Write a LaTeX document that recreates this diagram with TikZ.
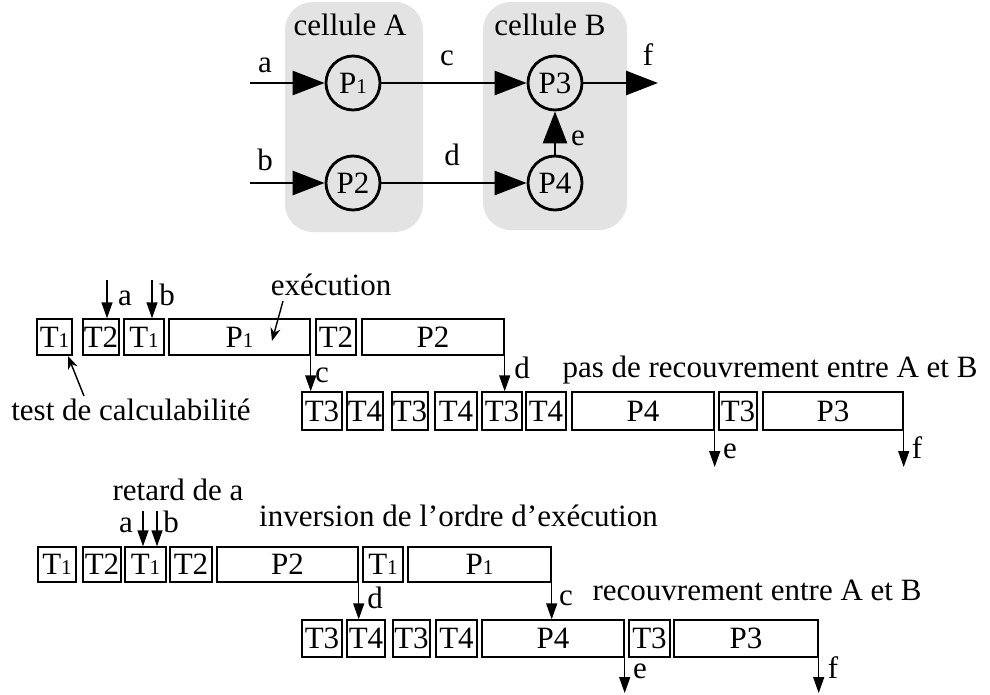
\documentclass[tikz,border=0pt]{standalone}
\usepackage{fontspec}
\setmainfont{Liberation Serif}
\usetikzlibrary{arrows.meta}
% the short figure "1" used in the process and test names
\newcommand\lowone{{\fontsize{21}{21}\selectfont 1}}
% timeline box: name, left, right, top, bottom, text
\newcommand\tb[6]{\node[tbox,minimum width={(#3-#2)*1pt},minimum height={(#5-#4)*1pt}] (#1) at ({(#2+#3)/2},{(#4+#5)/2}) {#6};}
\tikzset{
  cell/.style={fill=black!11, rounded corners=28pt},
  proc/.style={circle, draw, line width=2.8pt, minimum size=54pt, inner sep=0pt},
  garrow/.style={line width=2.8pt, -{Triangle[length=32pt,width=24pt]}},
  tbox/.style={draw, line width=1.4pt, inner sep=0pt},
  tarrow/.style={line width=1.4pt, -{Triangle[length=16pt,width=11pt]}},
  note/.style={line width=1.4pt, -{Stealth[length=13pt,width=10pt]}},
  lbl/.style={anchor=base, inner sep=0pt}
}
\begin{document}
\begin{tikzpicture}[x=1pt,y=-1pt,font=\fontsize{31}{36}\selectfont]
\useasboundingbox[fill=white] (0,0) rectangle (990,694);

% ---- process graph with its two cells
\fill[cell] (285,2) rectangle (423,232);
\fill[cell] (483,2) rectangle (627,230);
\node[lbl] (cellA) at (350,35) {cellule A};
\node[lbl] (cellB) at (550,35) {cellule B};

\node[proc] (P1) at (353,83) {P\lowone};
\node[proc] (P2) at (353,183) {P2};
\node[proc] (P3) at (555,83) {P3};
\node[proc] (P4) at (555,183) {P4};
\coordinate (ain) at (250,83);
\coordinate (bin) at (250,183);
\coordinate (fout) at (658,83);

\draw[garrow] (ain) -- (P1);
\draw[garrow] (bin) -- (P2);
\draw[garrow] (P1) -- (P3);
\draw[garrow] (P2) -- (P4);
\draw[garrow] (P4) -- (P3);
\draw[garrow] (P3) -- (fout);

\node[lbl] (la) at (265,72) {a};
\node[lbl] (lb) at (265,170) {b};
\node[lbl] (lc) at (447,65) {c};
\node[lbl] (ld) at (452,165) {d};
\node[lbl] (le) at (578,145) {e};
\node[lbl] (lf) at (648,65) {f};

% ---- first schedule: no overlap
\tb{s1t1}{37}{72}{319}{355}{T\lowone}
\tb{s1t2}{83}{119}{319}{355}{T2}
\tb{s1t1b}{124}{164}{319}{355}{T\lowone}
\tb{s1p1}{169}{310}{319}{355}{P\lowone}
\tb{s1t2b}{316}{356}{319}{355}{T2}
\tb{s1p2}{362}{504}{319}{355}{P2}

\tb{s1t3}{302}{342}{392}{430}{T3}
\tb{s1t4}{347}{383}{392}{430}{T4}
\tb{s1t3b}{392}{428}{392}{430}{T3}
\tb{s1t4b}{435}{477}{392}{430}{T4}
\tb{s1t3c}{482}{522}{392}{430}{T3}
\tb{s1t4c}{526}{566}{392}{430}{T4}
\tb{s1p4}{572}{714}{392}{430}{P4}
\tb{s1t3d}{719}{757}{392}{430}{T3}
\tb{s1p3}{763}{903}{392}{430}{P3}

\coordinate (s1a) at (107,280);
\coordinate (s1b) at (152,280);
\coordinate (s1end) at (0,467);
\draw[tarrow] (s1a) -- (s1a |- s1t2.north);
\draw[tarrow] (s1b) -- (s1b |- s1t1b.north);
\draw[tarrow] (s1p1.south east) -- (s1p1.south east |- s1t3.north);
\draw[tarrow] (s1p2.south east) -- (s1p2.south east |- s1t3c.north);
\draw[tarrow] (s1p4.south east) -- (s1p4.south east |- s1end);
\draw[tarrow] (s1p3.south east) -- (s1p3.south east |- s1end);

\node[lbl] (s1la) at (125,305) {a};
\node[lbl] (s1lb) at (167,305) {b};
\node[lbl] (s1lc) at (322,382) {c};
\node[lbl] (s1ld) at (522,378) {d};
\node[lbl] (s1le) at (730,458) {e};
\node[lbl] (s1lf) at (917,458) {f};

\node[lbl] (exec) at (331,295) {exécution};
\coordinate (execfrom) at (283,301);
\coordinate (execto) at (272,341);
\draw[note] (execfrom) -- (execto);

\node[lbl] (test) at (131,420) {test de calculabilité};
\coordinate (testfrom) at (84,396);
\coordinate (testto) at (68,356);
\draw[note] (testfrom) -- (testto);

\node[lbl] (nover) at (770,377) {pas de recouvrement entre A et B};

% ---- second schedule: overlap
\tb{s2t1}{38}{76}{547}{582}{T\lowone}
\tb{s2t2}{83}{121}{547}{582}{T2}
\tb{s2t1b}{125}{166}{547}{582}{T\lowone}
\tb{s2t2b}{170}{212}{547}{582}{T2}
\tb{s2p2}{217}{358}{547}{582}{P2}
\tb{s2t1c}{363}{403}{547}{582}{T\lowone}
\tb{s2p1}{408}{551}{547}{582}{P\lowone}

\tb{s2t3}{302}{342}{620}{657}{T3}
\tb{s2t4}{347}{385}{620}{657}{T4}
\tb{s2t3b}{393}{430}{620}{657}{T3}
\tb{s2t4b}{436}{477}{620}{657}{T4}
\tb{s2p4}{482}{624}{620}{657}{P4}
\tb{s2t3c}{629}{670}{620}{657}{T3}
\tb{s2p3}{674}{818}{620}{657}{P3}

\coordinate (s2a) at (143,511);
\coordinate (s2b) at (157,511);
\coordinate (s2end) at (0,693);
\draw[tarrow] (s2a) -- (s2a |- s2t1b.north);
\draw[tarrow] (s2b) -- (s2b |- s2t1b.north);
\draw[tarrow] (s2p2.south east) -- (s2p2.south east |- s2t4.north);
\draw[tarrow] (s2p1.south east) -- (s2p1.south east |- s2p4.north);
\draw[tarrow] (s2p4.south east) -- (s2p4.south east |- s2end);
\draw[tarrow] (s2p3.south east) -- (s2p3.south east |- s2end);

\node[lbl] (delay) at (178,500) {retard de a};
\node[lbl] (s2la) at (126,532) {a};
\node[lbl] (s2lb) at (171,532) {b};
\node[lbl] (s2ld) at (375,608) {d};
\node[lbl] (s2lc) at (566,605) {c};
\node[lbl] (s2le) at (640,678) {e};
\node[lbl] (s2lf) at (833,678) {f};

\node[lbl, anchor=base west] (swap) at (259,526) {inversion de l’ordre d’exécution};
\node[lbl] (over) at (757,600) {recouvrement entre A et B};
\end{tikzpicture}
\end{document}
